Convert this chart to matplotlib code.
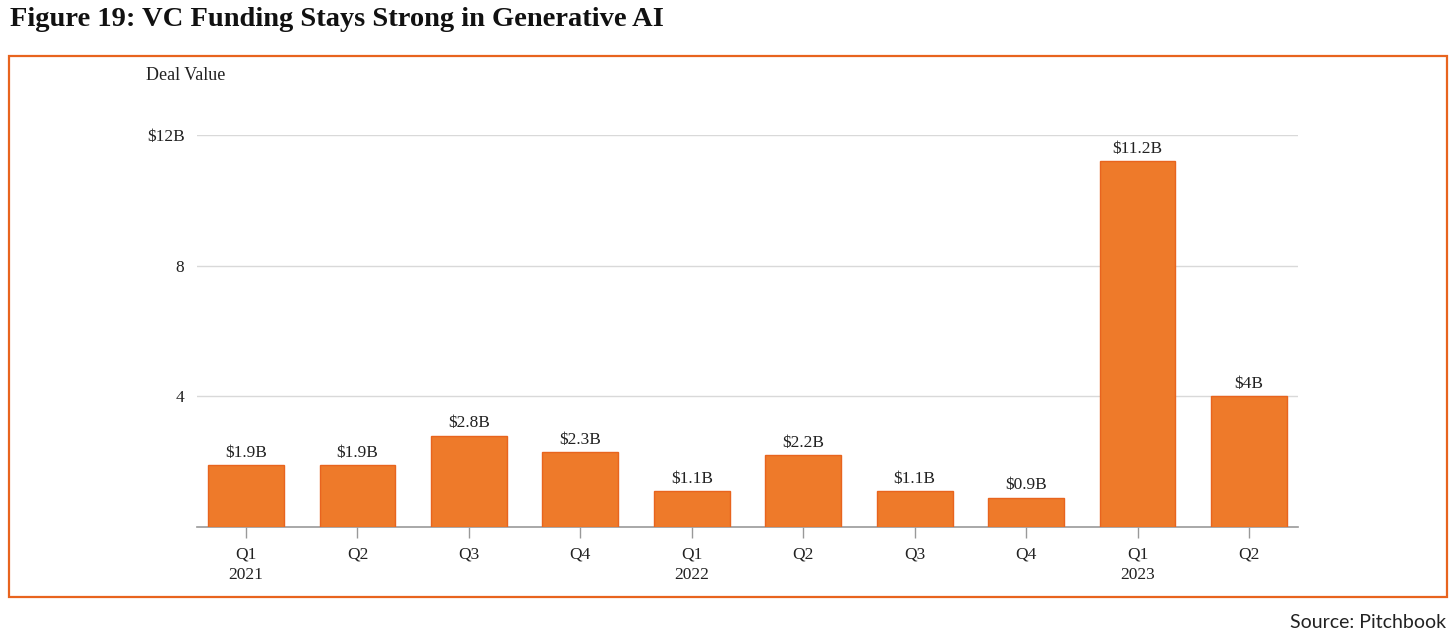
import matplotlib
matplotlib.use("Agg")
import matplotlib.pyplot as plt
from matplotlib.patches import Rectangle

quarters = ["Q1\n2021", "Q2", "Q3", "Q4", "Q1\n2022", "Q2", "Q3", "Q4", "Q1\n2023", "Q2"]
values = [1.9, 1.9, 2.8, 2.3, 1.1, 2.2, 1.1, 0.9, 11.2, 4.0]
labels = ["$1.9B", "$1.9B", "$2.8B", "$2.3B", "$1.1B", "$2.2B", "$1.1B", "$0.9B", "$11.2B", "$4B"]
yticks = [4, 8, 12]
yticklabels = ["4", "8", "$12B"]

W, H = 1456, 640
fig = plt.figure(figsize=(W / 100, H / 100), dpi=100)
fig.patch.set_facecolor("white")

serif = ["Liberation Serif", "DejaVu Serif"]
orange = "#EE7A2A"
edge = "#E8641E"

# Frame
fig.patches.append(Rectangle((9 / W, 1 - 597 / H), (1447 - 9) / W, (597 - 56) / H,
                             transform=fig.transFigure, fill=False, edgecolor=edge, linewidth=1.6))

fig.text(10 / W, 1 - 20 / H, "Figure 19: VC Funding Stays Strong in Generative AI",
         fontsize=20.5, fontweight="bold", family=serif, va="center", ha="left", color="#111111")
fig.text(1446 / W, 1 - 623 / H, "Source: Pitchbook", fontsize=14, family=["Lato", "DejaVu Sans"],
         va="center", ha="right", color="#222222")

ax = fig.add_axes([197 / W, 1 - 527 / H, (1298 - 197) / W, (527 - 135) / H])
x = list(range(len(values)))
ax.bar(x, values, width=0.68, color=orange, edgecolor=edge, linewidth=1, zorder=3)
ax.set_xlim(-0.44, len(values) - 0.56)
ax.set_ylim(0, 12)
ax.set_yticks(yticks)
ax.set_yticklabels(yticklabels, family=serif, fontsize=12.5, color="#222222")
ax.set_xticks(x)
ax.set_xticklabels(quarters, family=serif, fontsize=12.5, color="#222222", linespacing=1.35)
ax.grid(axis="y", color="#d9d9d9", linewidth=1, zorder=0)
for s in ["top", "right", "left"]:
    ax.spines[s].set_visible(False)
ax.spines["bottom"].set_color("#999999")
ax.spines["bottom"].set_linewidth(1.2)
ax.tick_params(axis="y", length=0, pad=9)
ax.tick_params(axis="x", length=8, color="#999999", width=1, pad=6)

for xi, v, lab in zip(x, values, labels):
    ax.annotate(lab, (xi, v), xytext=(0, 3), textcoords="offset points",
                ha="center", va="bottom", family=serif, fontsize=12.5, color="#222222")

fig.text(146 / W, 1 - 76 / H, "Deal Value", fontsize=13, family=serif, va="center",
         ha="left", color="#222222")

fig.savefig("out.png", dpi=100, facecolor="white")
